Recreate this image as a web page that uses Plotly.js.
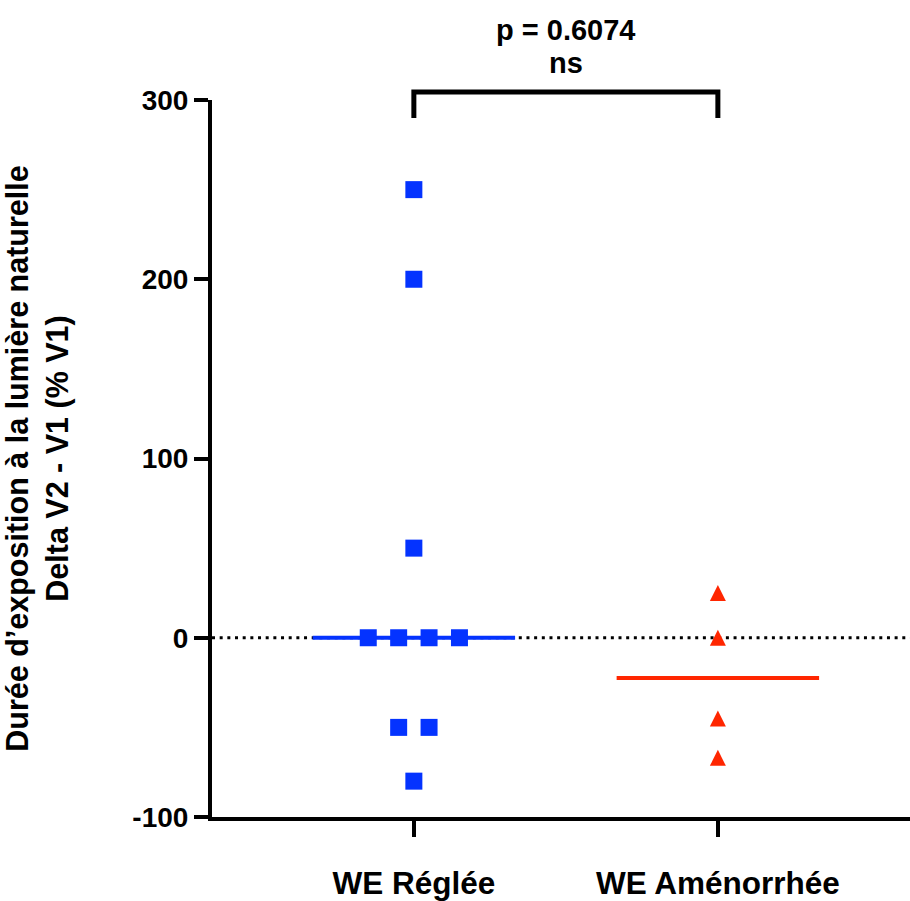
<!DOCTYPE html>
<html>
<head>
<meta charset="utf-8">
<script src="https://cdn.plot.ly/plotly-3.0.1.min.js"></script>
<style>
  html, body { margin: 0; padding: 0; background: #ffffff; }
  #chart { width: 910px; height: 901px; }
</style>
</head>
<body>
<div id="chart"></div>
<script>
// Group names (x categories)
const groups = ['WE Réglée', 'WE Aménorrhée'];

// Delta V2 - V1 (% V1) per participant
const regleeValues = [250, 200, 50, 0, 0, 0, 0, -50, -50, -80];
const amenorrheeValues = [25, 0, -45, -67];

// Y axis ticks
const yTickValues = [-100, 0, 100, 200, 300];

// Comparison result printed above the bracket
const pValueText = 'p = 0.6074';
const significanceText = 'ns';

const yTitleText = 'Durée d’exposition à la lumière naturelle<br>Delta V2 - V1 (% V1)';

const BLUE = '#0433FF';
const RED = '#FF2600';
const FONT = 'Liberation Sans, Arial, Helvetica, sans-serif';

// Spread tied values side by side around the group centre
function spread(values, centre, step) {
  const counts = {};
  values.forEach(v => { counts[v] = (counts[v] || 0) + 1; });
  const seen = {};
  return values.map(v => {
    const n = counts[v];
    const i = seen[v] || 0;
    seen[v] = i + 1;
    return centre + (i - (n - 1) / 2) * step;
  });
}

function median(values) {
  const s = values.slice().sort((a, b) => a - b);
  const m = Math.floor(s.length / 2);
  return s.length % 2 ? s[m] : (s[m - 1] + s[m]) / 2;
}

const halfWidth = 0.333;
const step = 0.1;

function medianLine(values, centre, color) {
  const m = median(values);
  return {
    x: [centre - halfWidth, centre + halfWidth],
    y: [m, m],
    mode: 'lines',
    line: { color: color, width: 4 },
    hoverinfo: 'skip',
    showlegend: false
  };
}

const traces = [
  medianLine(regleeValues, 0, BLUE),
  medianLine(amenorrheeValues, 1, RED),
  {
    x: spread(regleeValues, 0, step),
    y: regleeValues,
    mode: 'markers',
    marker: { symbol: 'square', size: 17, color: BLUE },
    name: groups[0],
    showlegend: false
  },
  {
    x: spread(amenorrheeValues, 1, step),
    y: amenorrheeValues,
    mode: 'markers',
    // upward triangle centred on the value
    marker: { symbol: 'arrow-down', angle: 180, standoff: 8, size: 16, color: RED },
    name: groups[1],
    showlegend: false
  }
];

const layout = {
  width: 910,
  height: 901,
  margin: { l: 212, r: 0, t: 100, b: 84 },
  paper_bgcolor: '#ffffff',
  plot_bgcolor: '#ffffff',
  showlegend: false,
  font: { family: FONT, color: '#000000' },
  xaxis: {
    range: [-0.664, 1.632],
    tickmode: 'array',
    tickvals: [0, 1],
    ticktext: groups,
    ticks: 'outside',
    ticklen: 16,
    tickwidth: 4,
    tickcolor: '#000000',
    ticklabelstandoff: 19,
    tickfont: { family: FONT, size: 31.5, weight: 'bold', color: '#000000' },
    showline: true,
    linewidth: 4,
    linecolor: '#000000',
    showgrid: false,
    zeroline: false,
    fixedrange: true
  },
  yaxis: {
    range: [-100, 300],
    tickmode: 'array',
    tickvals: yTickValues,
    ticktext: yTickValues.map(v => String(v)),
    ticks: 'outside',
    ticklen: 14,
    tickwidth: 4,
    tickcolor: '#000000',
    tickfont: { family: FONT, size: 28, weight: 'bold', color: '#000000' },
    showline: true,
    linewidth: 4,
    linecolor: '#000000',
    showgrid: false,
    zeroline: false,
    fixedrange: true,
    title: {
      text: yTitleText,
      standoff: 66,
      font: { family: FONT, size: 30.5, weight: 'bold', color: '#000000' }
    }
  },
  shapes: [
    {
      type: 'line', xref: 'paper', yref: 'y',
      x0: 0, x1: 1, y0: 0, y1: 0,
      layer: 'below',
      line: { color: '#000000', width: 3, dash: '3px,4.67px' }
    },
    {
      type: 'path', xref: 'x', yref: 'paper',
      path: 'M 0,0.975 L 0,1.0112 L 1,1.0112 L 1,0.975',
      line: { color: '#000000', width: 5 }
    }
  ],
  annotations: [
    {
      xref: 'x', yref: 'paper', x: 0.5, y: 1.0976,
      xanchor: 'center', yanchor: 'middle',
      text: pValueText, showarrow: false,
      font: { family: FONT, size: 29, weight: 'bold', color: '#000000' }
    },
    {
      xref: 'x', yref: 'paper', x: 0.5, y: 1.0515,
      xanchor: 'center', yanchor: 'middle',
      text: significanceText, showarrow: false,
      font: { family: FONT, size: 29, weight: 'bold', color: '#000000' }
    }
  ]
};

Plotly.newPlot('chart', traces, layout, { displayModeBar: false, staticPlot: true });
</script>
</body>
</html>
